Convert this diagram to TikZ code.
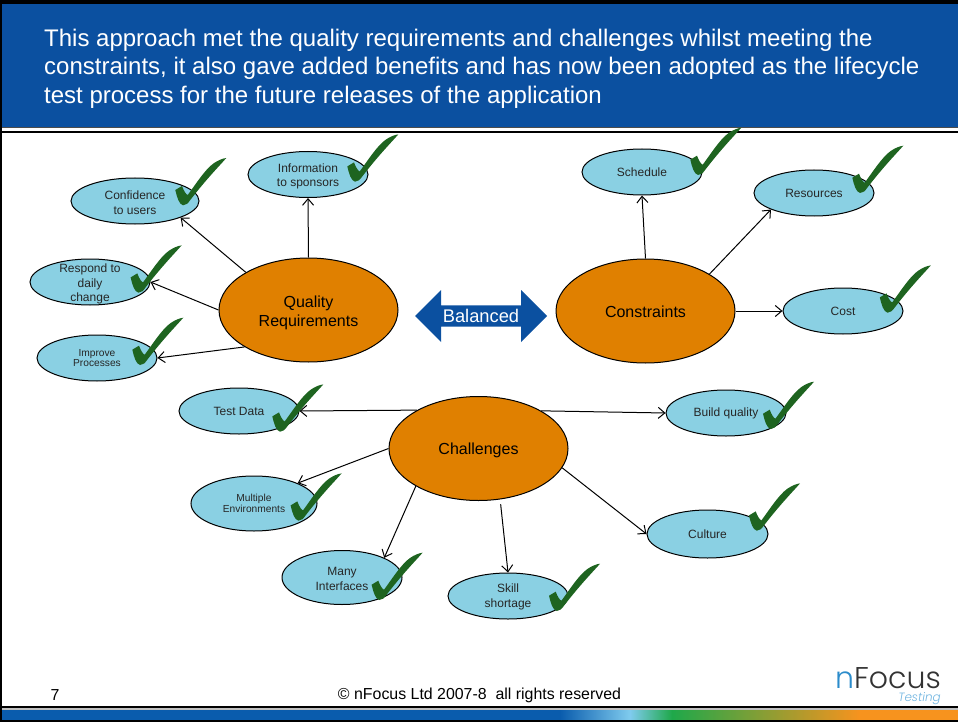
\documentclass[tikz,border=0pt]{standalone}
\usepackage{fontspec}
\setmainfont{Liberation Sans}
\newfontfamily\logofont[UprightFont={* Light},ItalicFont={* Light Italic}]{Poppins}
\usepackage{xcolor}
\usetikzlibrary{positioning, arrows.meta, shapes.geometric, shapes.arrows}
\definecolor{slideblue}{HTML}{0B50A0}
\definecolor{bluefill}{HTML}{8AD0E3}
\definecolor{orangefill}{HTML}{E08000}
\definecolor{tickgreen}{HTML}{1E6420}
\definecolor{barblue}{HTML}{0A5CAD}
\definecolor{barlight}{HTML}{7FCBEE}
\definecolor{bargreen}{HTML}{1FA84A}
\definecolor{barorange}{HTML}{F7931E}
\definecolor{logoblue}{HTML}{2B8CCB}
\definecolor{logotext}{HTML}{6FB4E0}
\newcommand{\sink}[1]{\rule{0pt}{#1}}
\tikzset{
  topic/.style={ellipse, draw=black, fill=bluefill, line width=1pt, minimum width=120pt, minimum height=46pt, inner xsep=0pt, inner ysep=-8pt, align=center, text=black!85, font=\fontsize{12}{14.7}\selectfont},
  smalltopic/.style={topic, font=\fontsize{10.2}{10.6}\selectfont},
  hub/.style={ellipse, draw=black, fill=orangefill, line width=1pt, minimum width=179pt, minimum height=104pt, inner sep=0pt, align=center, font=\fontsize{16}{19}\selectfont},
  link/.style={line width=1pt, -{Straight Barb[length=6.5pt, width=11pt]}},
  tick/.pic={
    \fill[tickgreen] (0,0) .. controls (-4,-1) and (-6,-8) .. (-7.7,-15.3) -- (-1,-19.3) .. controls (1,-14) and (3,-11) .. (4.7,-10.3) .. controls (12,-20) and (22,-36) .. (30.7,-42) .. controls (35,-45) and (40,-47) .. (43.3,-47.3) .. controls (37,-40) and (24,-27) .. (7.3,-5.3) .. controls (5,-2) and (3,0) .. (0,0) -- cycle;
  }
}
\begin{document}
\begin{tikzpicture}[x=1pt, y=-1pt]
    \useasboundingbox (0,0) rectangle (958,722);
    \fill[black] (0,0) rectangle (958,4);
    \fill[slideblue] (2,4) rectangle (958,127);
    \fill[black!70] (2,127) rectangle (958,128);
    \fill[black] (0,131) rectangle (958,133);
    \fill[black] (0,0) rectangle (2,722);
    \fill[black] (0,706) rectangle (958,707.5);
    \fill[black!25] (2,708) rectangle (958,710);
    \fill[barblue] (2,710) rectangle (560,720);
    \shade[left color=barblue, right color=barlight] (560,710) rectangle (630,720);
    \shade[left color=barlight, right color=bargreen] (630,710) rectangle (672,720);
    \shade[left color=bargreen, right color=barorange] (672,710) rectangle (860,720);
    \fill[barorange] (860,710) rectangle (958,720);
    \fill[black] (0,720) rectangle (958,722);

    \node[anchor=west, align=left, text=white, inner sep=0pt, font=\fontsize{24}{28.6}\selectfont] (title) at (44,68.5) {This approach met the quality requirements and challenges whilst meeting the\\constraints, it also gave added benefits and has now been adopted as the lifecycle\\test process for the future releases of the application};

    \node[hub] (quality) at (308.5,310) {\sink{16.5pt}Quality\\Requirements};
    \node[hub] (constraints) at (645.5,311) {\sink{13.5pt}Constraints};
    \node[hub] (challenges) at (478.5,448.5) {\sink{15.5pt}Challenges};

    \node[double arrow, fill=slideblue, text=white, minimum height=132pt, minimum width=52pt, double arrow head extend=10pt, inner sep=0pt, font=\fontsize{18.3}{20}\selectfont] (balanced) at (481,316) {Balanced};

    \node[topic, minimum width=128pt] (confidence) at (135,201) {\sink{12.6pt}Confidence\\to users};
    \node[topic] (information) at (308,174.5) {\sink{12.6pt}Information\\to sponsors};
    \node[topic] (respond) at (90,282) {\sink{12.6pt}Respond to\\daily\\change};
    \node[smalltopic] (improve) at (97,358) {Improve\\Processes};
    \node[topic] (schedule) at (642,172) {Schedule};
    \node[topic] (resources) at (814,193) {Resources};
    \node[topic] (cost) at (843,311) {Cost};
    \node[topic] (testdata) at (239,411) {Test Data};
    \node[smalltopic, minimum width=126pt, minimum height=55pt] (multiple) at (254,503.5) {Multiple\\Environments};
    \node[topic, minimum height=54pt] (many) at (342,577.5) {\sink{10.5pt}Many\\Interfaces};
    \node[topic] (skill) at (508,596) {\sink{10.5pt}Skill\\shortage};
    \node[topic] (build) at (726,413) {Build quality};
    \node[topic, minimum width=121pt, minimum height=48pt] (culture) at (707.5,534) {Culture};

    \draw[link] (quality.north) -- (information.south);
    \draw[link] (quality.149.8) -- (confidence.-20.3);
    \draw[link] (quality.west) -- (respond.east);
    \draw[link] (quality.210.6) -- (improve.east);
    \draw[link] (constraints.north) -- (schedule.south);
    \draw[link] (constraints.30.2) -- (resources.201.6);
    \draw[link] (constraints.east) -- (cost.west);
    \draw[link] (challenges.148.6) -- (testdata.east);
    \draw[link] (challenges.31.4) -- (build.west);
    \draw[link] (challenges.west) -- (multiple.25);
    \draw[link] (challenges.211.6) -- (many.25.5);
    \draw[link, shorten <=4.8pt] (challenges.-67.9) -- (skill.north);
    \draw[link] (challenges.-13.5) -- (culture.west);

    \foreach \x/\y in {183/205.3, 355/181.7, 138.3/292.7, 140/365, 698/175, 860/193, 887.5/312.7, 280/431.7, 298.3/520.7, 379.3/600, 556.7/611, 770.7/429, 756.7/530.7}
        \pic at (\x,\y) {tick};

    \node[inner sep=0pt, font=\fontsize{15.9}{17}\selectfont] (pagenum) at (55,695.5) {7};
    \node[inner sep=0pt, font=\fontsize{15.9}{17}\selectfont] (copyright) at (479.5,695.5) {© nFocus Ltd 2007-8\ \ all rights reserved};
    \node[anchor=base east, inner sep=0pt, text height=21pt, text depth=0pt, font=\logofont\fontsize{30}{31}\selectfont] (logo) at (941,688) {\textcolor{logoblue}{n}\textcolor{black!80}{Focus}};
    \node[anchor=base east, inner sep=0pt, text=logotext, text height=8.5pt, font=\logofont\itshape\fontsize{12}{13}\selectfont] (logosub) at (941,701) {Testing};
\end{tikzpicture}
\end{document}
